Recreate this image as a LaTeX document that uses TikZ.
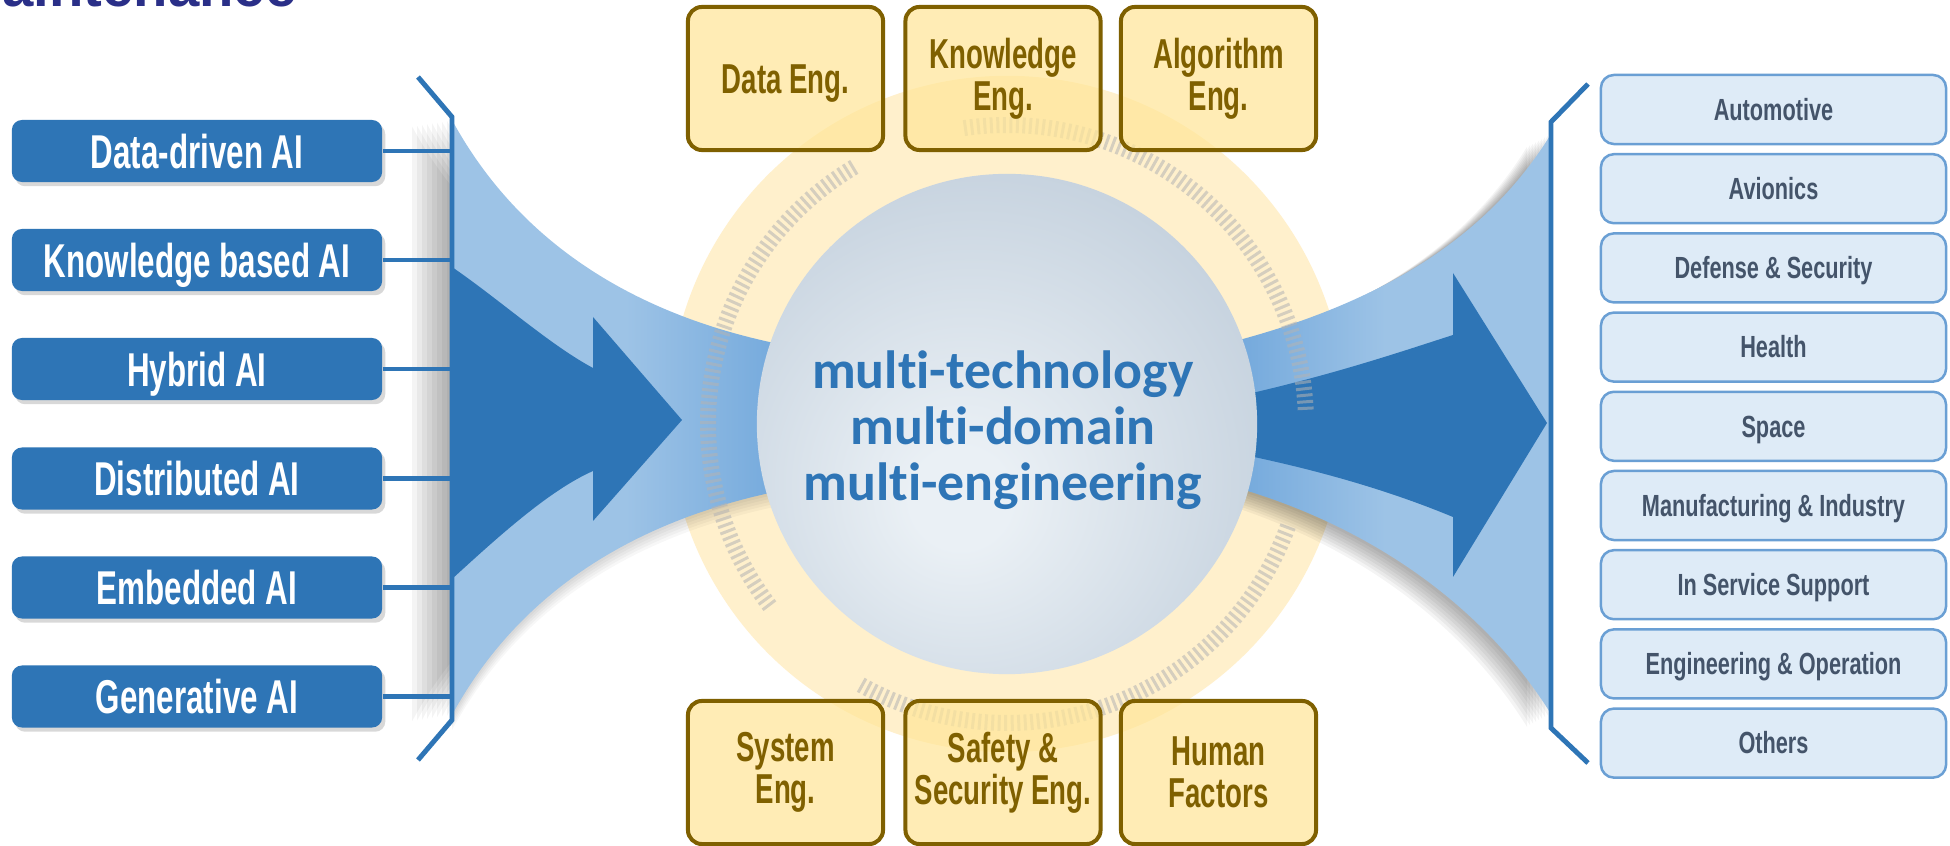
\documentclass[tikz,border=0pt]{standalone}
\usepackage{fontspec}
\usetikzlibrary{shadows}
\newfontfamily\agencyA[FakeStretch=0.66]{Liberation Sans}
\newfontfamily\agencyB[FakeStretch=0.71]{Liberation Sans}
\newfontfamily\titlefam{Liberation Sans}
\newfontfamily\calib[Ligatures=CommonOff]{Carlito}
\definecolor{boxblue}{HTML}{2E75B6}
\definecolor{bandlight}{HTML}{9DC3E6}
\definecolor{bandmid}{HTML}{6FA6DB}
\definecolor{domfill}{HTML}{DEEBF7}
\definecolor{domdraw}{HTML}{6A9FD4}
\definecolor{domtext}{HTML}{44546A}
\definecolor{tanfill}{HTML}{FFE699}
\definecolor{tandraw}{HTML}{7F6000}
\definecolor{halo}{HTML}{FFF0CC}
\definecolor{titlenavy}{HTML}{2A2F88}
\definecolor{sphC}{HTML}{EAF0F5}
\definecolor{sphM}{HTML}{C2CFDC}
\definecolor{sphE}{HTML}{A4B7CA}
\definecolor{tickgray}{HTML}{B3B3B3}
\pgfdeclareradialshading{spheresh}{\pgfpoint{-5bp}{-8bp}}{color(0bp)=(sphC); color(5bp)=(sphC); color(34bp)=(sphM); color(54bp)=(sphE); color(75bp)=(sphE)}
\def\leftband{(452,120) .. controls (520,245) and (640,320) .. (800,348) -- (800,487) .. controls (640,515) and (520,590) .. (452,715) -- cycle}
\def\rightband{(1220,345) .. controls (1360,310) and (1480,250) .. (1551,134) -- (1551,714) .. controls (1480,600) and (1360,520) .. (1220,483) -- cycle}
\begin{document}
\begin{tikzpicture}[x=0.01cm, y=-0.01cm,
  aibox/.style={rectangle, rounded corners=1mm, fill=boxblue, text=white,
    minimum width=3.7cm, minimum height=0.62cm, inner sep=0pt,
    font={\agencyA\bfseries\fontsize{13.5}{15}\selectfont},
    text height=9.7pt, text depth=0pt,
    drop shadow={shadow xshift=0.9pt, shadow yshift=-1.2pt, opacity=0.3}},
  dombox/.style={rectangle, rounded corners=1.3mm, fill=domfill, draw=domdraw,
    line width=0.25mm, text=domtext, minimum width=3.45cm, minimum height=0.69cm,
    inner sep=0pt, font={\agencyB\bfseries\fontsize{8.7}{10}\selectfont},
    text height=6.2pt, text depth=0pt},
  engbox/.style={rectangle, rounded corners=1.4mm, draw=tandraw, line width=0.4mm,
    fill=tanfill, fill opacity=0.72, text opacity=1, text=tandraw,
    minimum width=1.95cm, minimum height=1.43cm, inner sep=0pt, align=center,
    font={\agencyA\bfseries\fontsize{11.9}{12}\selectfont}},
  sphtext/.style={anchor=base, inner sep=0pt, text=boxblue,
    font={\calib\bfseries\fontsize{15.3}{16}\selectfont}},
  brk/.style={draw=boxblue, line width=1.4pt},
  conn/.style={draw=boxblue, line width=1.2pt},
  tickst/.style={draw=tickgray, line width=0.85pt, opacity=0.55}]
\useasboundingbox (0,0) rectangle (1950,846);
\clip (0,0) rectangle (1950,846);
\fill[white] (0,0) rectangle (1950,846);

% partial title at the top edge
\node[anchor=base east, inner sep=0pt, text=titlenavy,
  font={\titlefam\bfseries\fontsize{16}{18}\selectfont}] (title) at (297,7) {Maintenance};

% halo
\fill[halo] (1007,414) circle (3.38cm);

% soft shadows of the flows
\foreach \s in {1,...,8}{\fill[black,opacity=0.045,shift={({-5*\s},{0.8*\s})}] \leftband;}
\foreach \s in {1,...,5}{\fill[black,opacity=0.03,shift={(0,{3*\s})}] \leftband;}
\foreach \s in {1,...,8}{\fill[black,opacity=0.045,shift={({-3*\s},{1.6*\s})}] \rightband;}

% left flow
\shade[left color=bandlight, right color=bandmid, middle color=bandlight] \leftband;
\fill[boxblue] (452,267) .. controls (500,300) and (550,345) .. (593,368) -- (593,317)
  -- (682,420) -- (593,521) -- (593,471) .. controls (550,490) and (500,535) .. (452,579) -- cycle;

% right flow
\shade[left color=bandmid, right color=bandlight, middle color=bandlight] \rightband;
\fill[boxblue] (1230,398) .. controls (1330,376) and (1400,352) .. (1453,335) -- (1453,273)
  -- (1547,423) -- (1453,577) -- (1453,517) .. controls (1400,495) and (1330,472) .. (1230,452) -- cycle;

% tick ring
\foreach \a in {121,122.25,...,218}{\draw[tickst] ({1007+291*cos(\a)},{424-291*sin(\a)}) -- ({1007+307*cos(\a)},{424-307*sin(\a)});}
\foreach \a in {3,4.25,...,98}{\draw[tickst] ({1007+291*cos(\a)},{424-291*sin(\a)}) -- ({1007+307*cos(\a)},{424-307*sin(\a)});}
\foreach \a in {-119,-117.75,...,-20}{\draw[tickst] ({1007+291*cos(\a)},{424-291*sin(\a)}) -- ({1007+307*cos(\a)},{424-307*sin(\a)});}

% sphere
\shade[shading=spheresh] (1007,424) circle (2.5cm);
\node[sphtext] (t1) at (1003,389) {multi-technology};
\node[sphtext] (t2) at (1003,445) {multi-domain};
\node[sphtext] (t3) at (1003,501) {multi-engineering};

% engineering boxes
\node[engbox, text height=8.5pt, text depth=0pt] (E1) at (785.5,78.5) {Data Eng.};
\node[engbox] (E2) at (1003,78.5) {Knowledge\\Eng.};
\node[engbox] (E3) at (1218.5,78.5) {Algorithm\\Eng.};
\node[engbox] (E4) at (785.5,772.5) {System\\Eng.};
\node[engbox] (E5) at (1003,772.5) {Safety \&\\Security Eng.};
\node[engbox] (E6) at (1218.5,772.5) {Human\\Factors};

% AI boxes
\node[aibox] (L1) at (197,151) {Data-driven AI};
\node[aibox] (L2) at (197,260) {Knowledge based AI};
\node[aibox] (L3) at (197,369) {Hybrid AI};
\node[aibox] (L4) at (197,478.5) {Distributed AI};
\node[aibox] (L5) at (197,587.5) {Embedded AI};
\node[aibox] (L6) at (197,696.5) {Generative AI};

% left bracket
\coordinate (lbA) at (418,77);
\coordinate (lbB) at (452,117);
\coordinate (lbC) at (452,720);
\coordinate (lbD) at (418,760);
\foreach \n in {L1,L2,L3,L4,L5,L6}{\draw[conn] (\n.east) -- (\n.east -| lbB);}
\draw[brk] (lbA) -- (lbB) -- (lbC) -- (lbD);

% domain boxes
\node[dombox] (D1) at (1773.5,109.5) {Automotive};
\node[dombox] (D2) at (1773.5,188.7) {Avionics};
\node[dombox] (D3) at (1773.5,267.9) {Defense \& Security};
\node[dombox] (D4) at (1773.5,347.1) {Health};
\node[dombox] (D5) at (1773.5,426.3) {Space};
\node[dombox] (D6) at (1773.5,505.5) {Manufacturing \& Industry};
\node[dombox] (D7) at (1773.5,584.7) {In Service Support};
\node[dombox] (D8) at (1773.5,663.9) {Engineering \& Operation};
\node[dombox] (D9) at (1773.5,743.1) {Others};

% right bracket
\coordinate (rbA) at (1588,84);
\coordinate (rbB) at (1551,122);
\coordinate (rbC) at (1551,728);
\coordinate (rbD) at (1588,763);
\draw[brk] (rbA) -- (rbB) -- (rbC) -- (rbD);
\end{tikzpicture}
\end{document}
